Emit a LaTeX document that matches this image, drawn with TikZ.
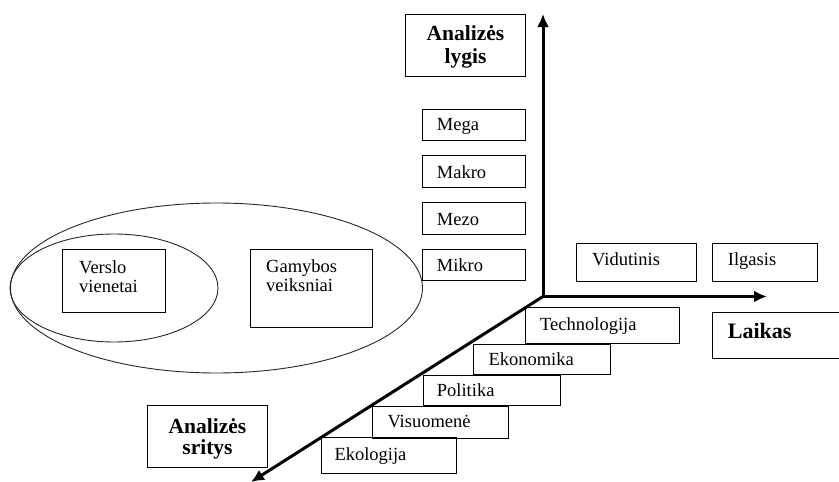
\documentclass[tikz,border=0pt]{standalone}
\usepackage{fontspec}
\setmainfont{Liberation Serif}
\usetikzlibrary{arrows.meta,shapes.geometric}
\tikzset{
  box/.style={draw, line width=1pt, rectangle, inner sep=0pt, outer sep=0pt, anchor=north west},
  lbl/.style={anchor=base west, inner sep=0pt, font=\fontsize{18.5}{19}\selectfont},
  blbl/.style={anchor=base, inner sep=0pt, font=\fontsize{21.5}{22.6}\selectfont\bfseries},
  axis/.style={line width=3pt},
  tip/.style={-{Latex[length=13pt,width=12pt]}},
  oval/.style={draw, ellipse, line width=0.9pt, black!85, inner sep=0pt, outer sep=0pt}
}
\begin{document}
\begin{tikzpicture}[x=1pt,y=-1pt]
\useasboundingbox (0,0) rectangle (839,482);
% ellipses
\node[oval, minimum width=412pt, minimum height=170pt] (outer) at (216.5,288) {};
\node[oval, minimum width=208pt, minimum height=108pt] (inner) at (114,288) {};
% boxes
\node[box, minimum width=119.6pt, minimum height=62pt] (lygis) at (405.7,14) {};
\node[box, minimum width=103pt, minimum height=31.3pt] (mega) at (422.3,109) {};
\node[box, minimum width=103pt, minimum height=31.5pt] (makro) at (422.3,155.7) {};
\node[box, minimum width=103pt, minimum height=31.5pt] (mezo) at (422.3,202.7) {};
\node[box, minimum width=103pt, minimum height=31.4pt] (mikro) at (422.3,249.3) {};
\node[box, minimum width=120pt, minimum height=37.7pt] (vid) at (576,243.3) {};
\node[box, minimum width=105pt, minimum height=37.7pt] (ilg) at (712.3,243.3) {};
\node[box, minimum width=135pt, minimum height=46.7pt] (laikas) at (712.7,312) {};
\node[box, minimum width=154pt, minimum height=36pt] (tech) at (525,307.3) {};
\node[box, minimum width=137.2pt, minimum height=30.3pt] (ekon) at (473.5,344) {};
\node[box, minimum width=137pt, minimum height=30.7pt] (pol) at (423,375) {};
\node[box, minimum width=136.3pt, minimum height=32.3pt] (vis) at (372,406) {};
\node[box, minimum width=135.7pt, minimum height=36pt] (eko) at (321,437.3) {};
\node[box, minimum width=120.4pt, minimum height=62pt] (sritys) at (147.3,405.7) {};
\node[box, minimum width=103.4pt, minimum height=63pt] (verslo) at (62.3,249.3) {};
\node[box, minimum width=122.3pt, minimum height=78.4pt] (gamybos) at (250,249.3) {};
% labels
\node[blbl] (lygisT) at ([yshift=-26.7pt]lygis.north) {\begin{tabular}[t]{@{}c@{}}Analizės\\lygis\end{tabular}};
\node[blbl, font=\fontsize{21.5}{20}\selectfont\bfseries] (sritysT) at ([yshift=-27.6pt]sritys.north) {\begin{tabular}[t]{@{}c@{}}Analizės\\sritys\end{tabular}};
\node[lbl] (megaT) at ([xshift=14.4pt,yshift=-21pt]mega.north west) {Mega};
\node[lbl] (makroT) at ([xshift=14.4pt,yshift=-22.5pt]makro.north west) {Makro};
\node[lbl] (mezoT) at ([xshift=14.4pt,yshift=-22.3pt]mezo.north west) {Mezo};
\node[lbl] (mikroT) at ([xshift=14.4pt,yshift=-22.4pt]mikro.north west) {Mikro};
\node[lbl] (vidT) at ([xshift=16pt,yshift=-22.4pt]vid.north west) {Vidutinis};
\node[lbl] (ilgT) at ([xshift=15.4pt,yshift=-22.4pt]ilg.north west) {Ilgasis};
\node[lbl, font=\fontsize{22}{24}\selectfont\bfseries] (laikasT) at ([xshift=15pt,yshift=-26.3pt]laikas.north west) {Laikas};
\node[lbl] (techT) at ([xshift=15pt,yshift=-22.7pt]tech.north west) {Technologija};
\node[lbl] (ekonT) at ([xshift=14.8pt,yshift=-21pt]ekon.north west) {Ekonomika};
\node[lbl] (polT) at ([xshift=13.7pt,yshift=-21.7pt]pol.north west) {Politika};
\node[lbl] (visT) at ([xshift=15.3pt,yshift=-21.7pt]vis.north west) {Visuomenė};
\node[lbl] (ekoT) at ([xshift=13.3pt,yshift=-22.7pt]eko.north west) {Ekologija};
\node[lbl] (versloT) at ([xshift=16.7pt,yshift=-23.7pt]verslo.north west) {\begin{tabular}[t]{@{}l@{}}Verslo\\vienetai\end{tabular}};
\node[lbl] (gamybosT) at ([xshift=16pt,yshift=-23.4pt]gamybos.north west) {\begin{tabular}[t]{@{}l@{}}Gamybos\\veiksniai\end{tabular}};
% axes
\coordinate (O) at (543,296.5);
\coordinate (ytip) at (543,14);
\coordinate (xtip) at (767,296.5);
\coordinate (ztip) at (251,482);
\draw[axis, {Latex[length=13pt,width=12pt]}-{Latex[length=13pt,width=12pt]}] (ytip) -- (O) -- (xtip);
\draw[axis, tip] (O) -- (ztip);
\end{tikzpicture}
\end{document}
